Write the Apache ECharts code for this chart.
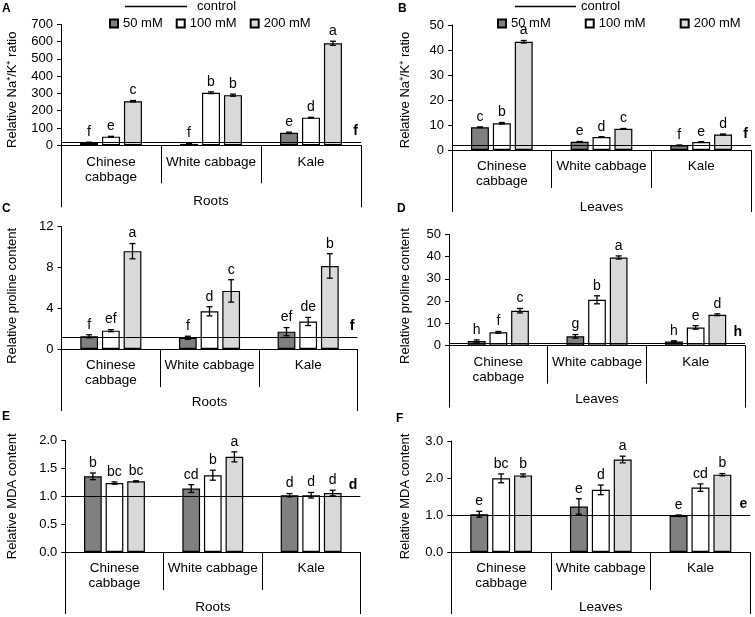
<!DOCTYPE html>
<html><head><meta charset="utf-8">
<script src="https://cdn.jsdelivr.net/npm/echarts@6/dist/echarts.min.js"></script>
<style>html,body{margin:0;padding:0;background:#fff}#c{width:755px;height:617px}</style>
</head><body><div id="c"></div>
<script>
// ---------- data ----------
const categories = ['Chinese\ncabbage', 'White cabbage', 'Kale'];
const treatments = ['50 mM', '100 mM', '200 mM'];

// A: Roots, relative Na+/K+ ratio   (rows: 50, 100, 200 mM; cols: categories)
const naKRootsMean = [[15, 8, 72], [50, 304, 160], [255, 290, 590]];
const naKRootsErr = [[3, 2, 4], [2, 5, 2], [4, 6, 12]];
const naKRootsLetters = [['f', 'f', 'e'], ['e', 'b', 'd'], ['c', 'b', 'a']];
const naKRootsControl = 18, naKRootsControlLetter = 'f';

// B: Leaves, relative Na+/K+ ratio
const naKLeavesMean = [[9.1, 3.3, 1.9], [10.7, 5.2, 3.2], [43.3, 8.5, 6.2]];
const naKLeavesErr = [[0.15, 0.1, 0.05], [0.3, 0.1, 0.1], [0.5, 0.1, 0.2]];
const naKLeavesLetters = [['c', 'e', 'f'], ['b', 'd', 'e'], ['a', 'c', 'd']];
const naKLeavesControl = 1.8, naKLeavesControlLetter = 'f';

// C: Roots, relative proline content
const prolineRootsMean = [[1.25, 1.1, 1.7], [1.8, 3.7, 2.7], [9.6, 5.7, 8.15]];
const prolineRootsErr = [[0.15, 0.15, 0.4], [0.1, 0.45, 0.4], [0.75, 1.1, 1.2]];
const prolineRootsLetters = [['f', 'f', 'ef'], ['ef', 'd', 'de'], ['a', 'c', 'b']];
const prolineRootsControl = 1.2, prolineRootsControlLetter = 'f';

// D: Leaves, relative proline content
const prolineLeavesMean = [[2.1, 4.2, 1.9], [6.0, 20.6, 8.2], [15.7, 39.6, 13.9]];
const prolineLeavesErr = [[0.5, 0.8, 0.3], [0.4, 1.8, 0.8], [1.0, 0.7, 0.4]];
const prolineLeavesLetters = [['h', 'g', 'h'], ['f', 'b', 'e'], ['c', 'a', 'd']];
const prolineLeavesControl = 1.3, prolineLeavesControlLetter = 'h';

// E: Roots, relative MDA content
const mdaRootsMean = [[1.36, 1.14, 1.02], [1.24, 1.38, 1.02], [1.27, 1.71, 1.06]];
const mdaRootsErr = [[0.06, 0.07, 0.03], [0.02, 0.09, 0.05], [0.01, 0.09, 0.05]];
const mdaRootsLetters = [['b', 'cd', 'd'], ['bc', 'b', 'd'], ['bc', 'a', 'd']];
const mdaRootsControl = 1.0, mdaRootsControlLetter = 'd';

// F: Leaves, relative MDA content
const mdaLeavesMean = [[1.02, 1.23, 0.98], [1.99, 1.68, 1.74], [2.07, 2.5, 2.09]];
const mdaLeavesErr = [[0.08, 0.21, 0.02], [0.12, 0.13, 0.1], [0.04, 0.09, 0.03]];
const mdaLeavesLetters = [['e', 'e', 'e'], ['bc', 'd', 'cd'], ['b', 'a', 'b']];
const mdaLeavesControl = 1.0, mdaLeavesControlLetter = 'e';

// ---------- layout / style ----------
const FONT = 'Liberation Sans, Arial, sans-serif';
const fills = ['#808080', '#ffffff', '#d9d9d9'];
const panels = [
  {tag: 'A', mean: naKRootsMean, err: naKRootsErr, letters: naKRootsLetters, ctrl: naKRootsControl, ctrlL: naKRootsControlLetter,
   grid: {left: 61, top: 24.3, width: 300, height: 121}, max: 700, interval: 100, dec: 0,
   yName: 'Relative Na⁺/K⁺ ratio', yGap: 42, yPad: 10, tissue: 'Roots', tGap: 49, tagPos: [2, 3]},
  {tag: 'B', mean: naKLeavesMean, err: naKLeavesErr, letters: naKLeavesLetters, ctrl: naKLeavesControl, ctrlL: naKLeavesControlLetter,
   grid: {left: 452, top: 25, width: 299, height: 125}, max: 50, interval: 10, dec: 0,
   yName: 'Relative Na⁺/K⁺ ratio', yGap: 40, yPad: 5, tissue: 'Leaves', tGap: 50, tagPos: [398, 3]},
  {tag: 'C', mean: prolineRootsMean, err: prolineRootsErr, letters: prolineRootsLetters, ctrl: prolineRootsControl, ctrlL: prolineRootsControlLetter,
   grid: {left: 61.5, top: 226.7, width: 296, height: 122.3}, max: 12, interval: 4, dec: 0,
   yName: 'Relative proline content', yGap: 43, yPad: 16, tissue: 'Roots', tGap: 46, tagPos: [2, 203]},
  {tag: 'D', mean: prolineLeavesMean, err: prolineLeavesErr, letters: prolineLeavesLetters, ctrl: prolineLeavesControl, ctrlL: prolineLeavesControlLetter,
   grid: {left: 449, top: 234.3, width: 296, height: 111.4}, max: 50, interval: 10, dec: 0,
   yName: 'Relative proline content', yGap: 37, yPad: 12, tissue: 'Leaves', tGap: 47, tagPos: [397, 203]},
  {tag: 'E', mean: mdaRootsMean, err: mdaRootsErr, letters: mdaRootsLetters, ctrl: mdaRootsControl, ctrlL: mdaRootsControlLetter,
   grid: {left: 65.3, top: 440.7, width: 295, height: 111.3}, max: 2, interval: 0.5, dec: 1,
   yName: 'Relative MDA content', yGap: 46, yPad: 0, tissue: 'Roots', tGap: 48, tagPos: [2, 411]},
  {tag: 'F', mean: mdaLeavesMean, err: mdaLeavesErr, letters: mdaLeavesLetters, ctrl: mdaLeavesControl, ctrlL: mdaLeavesControlLetter,
   grid: {left: 451.3, top: 441, width: 299, height: 111}, max: 3, interval: 1, dec: 1,
   yName: 'Relative MDA content', yGap: 39, yPad: 0, tissue: 'Leaves', tGap: 48, tagPos: [396, 413]}
];

const BAR_W = 0.18, BAR_GAP = 0.22;
const STEP = BAR_W * (1 + BAR_GAP);

function errRender(letters, k) {
  return function (params, api) {
    const ci = api.value(0), v = api.value(1), e = api.value(2);
    const band = api.size([1, 0])[0];
    const x = api.coord([ci, v])[0] + (k - 1) * STEP * band;
    const top = api.coord([ci, v + e])[1];
    const bot = api.coord([ci, Math.max(0, v - e)])[1];
    const cap = 3;
    const ls = {stroke: '#000', lineWidth: 1.3};
    return {type: 'group', children: [
      {type: 'line', shape: {x1: x, y1: top, x2: x, y2: bot}, style: ls},
      {type: 'line', shape: {x1: x - cap, y1: top, x2: x + cap, y2: top}, style: ls},
      {type: 'line', shape: {x1: x - cap, y1: bot, x2: x + cap, y2: bot}, style: ls},
      {type: 'text', x: x, y: top - 3, style: {text: letters[params.dataIndex], fill: '#000',
        font: '14px ' + FONT, textAlign: 'center', textVerticalAlign: 'bottom'}}
    ]};
  };
}

const option = {
  animation: false,
  textStyle: {fontFamily: FONT, color: '#000'},
  title: [], grid: [], xAxis: [], yAxis: [], series: [],
  legend: [
    {data: [{name: 'control', icon: 'rect'}], left: 125, top: 0, padding: 0, itemWidth: 62, itemHeight: 1.5,
     selectedMode: false, textStyle: {fontSize: 13, color: '#000', fontFamily: FONT, padding: [0, 0, 0, 5]}},
    {data: treatments.map(n => ({name: n, icon: 'rect'})), left: 109, top: 17, padding: 0, itemWidth: 8, itemHeight: 8,
     itemGap: 13, selectedMode: false, textStyle: {fontSize: 13, color: '#000', fontFamily: FONT}},
    {data: [{name: 'control', icon: 'rect'}], left: 515, top: 0, padding: 0, itemWidth: 61, itemHeight: 1.5,
     selectedMode: false, textStyle: {fontSize: 13, color: '#000', fontFamily: FONT}},
    {data: treatments.map(n => ({name: n, icon: 'rect'})), left: 497, top: 17, padding: 0, itemWidth: 8, itemHeight: 8,
     itemGap: 34, selectedMode: false, textStyle: {fontSize: 13, color: '#000', fontFamily: FONT}}
  ]
};

panels.forEach((p, i) => {
  option.title.push({text: p.tag, left: p.tagPos[0], top: p.tagPos[1], padding: 0,
    textStyle: {fontSize: 12, fontWeight: 'bold', color: '#000', fontFamily: FONT}});
  option.grid.push(Object.assign({containLabel: false, outerBoundsMode: 'none'}, p.grid));
  option.xAxis.push({type: 'category', gridIndex: i, data: categories, position: 'bottom', boundaryGap: true,
    axisLine: {show: true, onZero: false, lineStyle: {color: '#000', width: 1}},
    axisTick: {show: true, length: 38, interval: 0, lineStyle: {color: '#000', width: 1}},
    axisLabel: {interval: 0, color: '#000', fontSize: 13.5, lineHeight: 15, margin: 9, fontFamily: FONT}});
  option.xAxis.push({type: 'category', gridIndex: i, data: [''], position: 'bottom', boundaryGap: true,
    axisLine: {show: false}, axisLabel: {show: false},
    axisTick: {show: true, length: 62, interval: 0, lineStyle: {color: '#000', width: 1}},
    name: p.tissue, nameLocation: 'middle', nameGap: p.tGap,
    nameTextStyle: {fontSize: 13.5, color: '#000', fontFamily: FONT}});
  option.yAxis.push({type: 'value', gridIndex: i, min: 0, max: p.max, interval: p.interval,
    axisLine: {show: true, lineStyle: {color: '#000', width: 1}},
    axisTick: {show: true, length: 4, lineStyle: {color: '#000'}},
    splitLine: {show: false},
    axisLabel: {color: '#000', fontSize: 13, margin: 8, fontFamily: FONT, formatter: v => v.toFixed(p.dec)},
    name: p.yName, nameLocation: 'middle', nameGap: p.yGap, nameRotate: 90,
    nameTextStyle: {fontSize: 13, color: '#000', fontFamily: FONT, padding: [0, p.yPad, 0, 0]}});
  treatments.forEach((t, k) => {
    option.series.push({type: 'bar', name: t, xAxisIndex: 2 * i, yAxisIndex: i,
      data: p.mean[k], barWidth: (BAR_W * 100) + '%', barGap: (BAR_GAP * 100) + '%',
      itemStyle: {color: fills[k], borderColor: '#000', borderWidth: 1.2}});
  });
  treatments.forEach((t, k) => {
    option.series.push({type: 'custom', name: t + ' err', xAxisIndex: 2 * i, yAxisIndex: i, z: 5,
      renderItem: errRender(p.letters[k], k), encode: {x: 0, y: 1},
      data: categories.map((c, j) => [j, p.mean[k][j], p.err[k][j]])});
  });
  option.series.push({type: 'line', name: 'control', xAxisIndex: 2 * i, yAxisIndex: i, data: [],
    color: '#000', itemStyle: {color: '#000'}, lineStyle: {color: '#000'},
    markLine: {silent: true, symbol: 'none', animation: false,
      lineStyle: {color: '#000', width: 1.2, type: 'solid'},
      label: {show: true, position: 'insideEndTop', formatter: p.ctrlL, fontWeight: 'bold', fontSize: 14,
        color: '#000', fontFamily: FONT, distance: [3, 4]},
      data: [{yAxis: p.ctrl}]}});
});

const chart = echarts.init(document.getElementById('c'), null, {renderer: 'canvas'});
chart.setOption(option);
</script>
</body></html>
